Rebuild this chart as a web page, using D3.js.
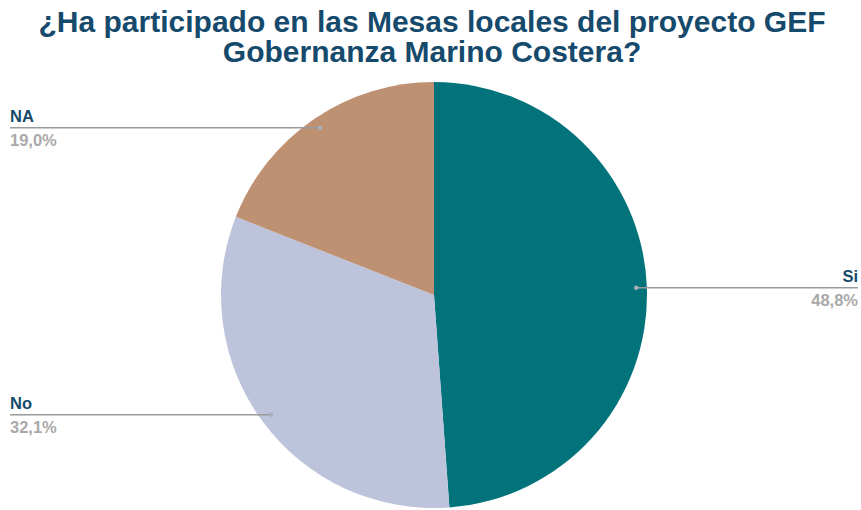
<!DOCTYPE html>
<html>
<head>
<meta charset="utf-8">
<script src="https://cdn.jsdelivr.net/npm/d3@7"></script>
<style>
  body { margin: 0; background: #fff; }
  svg { display: block; font-family: "Liberation Sans", Arial, sans-serif; }
</style>
</head>
<body>
<svg id="chart"></svg>
<script>
var categories = ["Si", "No", "NA"];
var values = [48.8, 32.1, 19.0];
var valueLabels = ["48,8%", "32,1%", "19,0%"];
var colors = ["#03737b", "#bcc3da", "#bd9171"];
var titleLines = ["¿Ha participado en las Mesas locales del proyecto GEF", "Gobernanza Marino Costera?"];

var width = 861,
    height = 510,
    cx = 434,
    cy = 295,
    radius = 213;

var svg = d3.select("#chart")
    .attr("width", width)
    .attr("height", height);

// title
svg.append("text")
    .attr("text-anchor", "middle")
    .attr("font-weight", "bold")
    .attr("font-size", 30)
    .attr("fill", "#164a6c")
    .selectAll("tspan")
    .data(titleLines)
    .enter().append("tspan")
      .attr("x", 432)
      .attr("y", function(d, i) { return 32 + i * 30; })
      .text(function(d) { return d; });

var data = categories.map(function(c, i) {
    return { name: c, value: values[i], label: valueLabels[i], color: colors[i] };
});

var pie = d3.pie()
    .sort(null)
    .value(function(d) { return d.value; });

var arc = d3.arc()
    .innerRadius(0)
    .outerRadius(radius);

var g = svg.append("g")
    .attr("transform", "translate(" + cx + "," + cy + ")");

var arcs = pie(data);

g.selectAll("path")
    .data(arcs)
    .enter().append("path")
      .attr("d", arc)
      .attr("fill", function(d) { return d.data.color; });

// leader lines + labels
var dotR = radius * 0.95;

arcs.forEach(function(d) {
    var mid = (d.startAngle + d.endAngle) / 2,
        px = Math.sin(mid) * dotR,
        py = -Math.cos(mid) * dotR,
        right = px > 0,
        endX = right ? width - 3 - cx : 10 - cx;

    g.append("line")
        .attr("x1", px).attr("y1", py)
        .attr("x2", endX).attr("y2", py)
        .attr("stroke", "#9a9a9a")
        .attr("stroke-width", 1.5);

    g.append("circle")
        .attr("cx", px).attr("cy", py)
        .attr("r", 2.2)
        .attr("fill", "#a8b0bc");

    var tx = right ? width - 3 - cx : 10 - cx,
        anchor = right ? "end" : "start";

    g.append("text")
        .attr("x", tx).attr("y", py - 5.5)
        .attr("text-anchor", anchor)
        .attr("font-weight", "bold")
        .attr("font-size", 16.5)
        .attr("fill", "#164a6c")
        .text(d.data.name);

    g.append("text")
        .attr("x", tx).attr("y", py + 18)
        .attr("text-anchor", anchor)
        .attr("font-weight", "bold")
        .attr("font-size", 16.5)
        .attr("fill", "#a9a9a9")
        .text(d.data.label);
});
</script>
</body>
</html>
